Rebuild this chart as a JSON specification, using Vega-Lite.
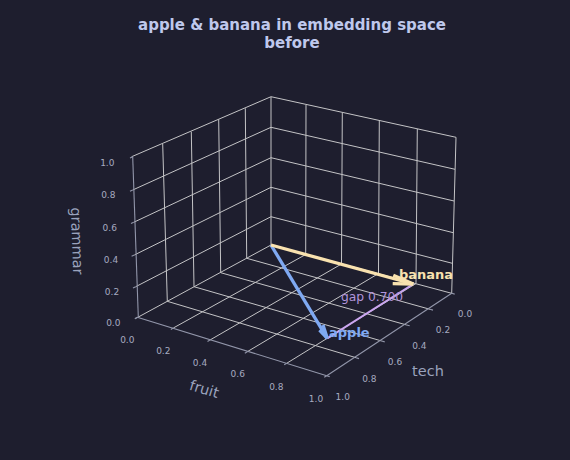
{
"$schema":"https://vega.github.io/schema/vega-lite/v6.json",
"width":570,"height":460,"padding":0,"autosize":{"type":"none"},
"background":"#1e1e2e",
"view":{"stroke":null,"fill":"#1e1e2e"},
"title":{"text":["apple & banana in embedding space","before"],"font":"DejaVu Sans","fontSize":15,"fontWeight":"bold","color":"#bfc8ec","anchor":"middle","dx":7,"offset":-63,"lineHeight":18,"baseline":"alphabetic"},
"datasets":{
"grid":[
{"x":305.7,"y":254.5,"x2":173.3,"y2":328},{"x":341.5,"y":264,"x2":210,"y2":340},{"x":378.5,"y":273.5,"x2":247.3,"y2":351.7},{"x":416,"y":283.5,"x2":286.7,"y2":363.3},
{"x":271,"y":245,"x2":451.7,"y2":293.3},{"x":246.7,"y":258.3,"x2":430,"y2":309.3},{"x":220.7,"y":272.7,"x2":406.7,"y2":325},{"x":194,"y":286.7,"x2":381.7,"y2":341},{"x":167.3,"y":301.3,"x2":356,"y2":357.7},
{"x":271,"y":245,"x2":137.8,"y2":317.3},
{"x":271,"y":97,"x2":271,"y2":245},
{"x":245.3,"y":108.3,"x2":246.7,"y2":258.3},{"x":218.7,"y":119.3,"x2":220.7,"y2":272.7},{"x":191.3,"y":131.7,"x2":194,"y2":286.7},{"x":162.7,"y":144,"x2":167.3,"y2":301.3},
{"x":306,"y":105,"x2":305.7,"y2":254.5},{"x":342.3,"y":112.7,"x2":341.5,"y2":264},{"x":379.3,"y":120.7,"x2":378.5,"y2":273.5},{"x":417.3,"y":129,"x2":416,"y2":283.5},{"x":456,"y":137.3,"x2":451.7,"y2":293.3},
{"x":271,"y":216.7,"x2":135.7,"y2":286.7},{"x":271,"y":187.3,"x2":134.3,"y2":255},{"x":271,"y":157.7,"x2":133.7,"y2":222.3},{"x":271,"y":127.3,"x2":132.7,"y2":190},{"x":271,"y":96.7,"x2":131.7,"y2":156.7},
{"x":271,"y":216.7,"x2":452.3,"y2":263.3},{"x":271,"y":187.3,"x2":453.3,"y2":232.7},{"x":271,"y":157.7,"x2":454,"y2":201},{"x":271,"y":127.3,"x2":455,"y2":169.3},{"x":271,"y":96.7,"x2":456,"y2":137.3}
],
"axes":[
{"x":137.3,"y":317.3,"x2":326.7,"y2":375.7},{"x":326.7,"y":375.7,"x2":451.7,"y2":293.3},{"x":132.7,"y":156.7,"x2":138.3,"y2":317},
{"x":173.3,"y":328,"x2":170.8,"y2":329.4},{"x":210,"y":340,"x2":207.5,"y2":341.4},{"x":247.3,"y":351.7,"x2":244.8,"y2":353.2},{"x":286.7,"y":363.3,"x2":284.2,"y2":364.8},{"x":326.7,"y":375.7,"x2":324.2,"y2":377.2},{"x":137.3,"y":317.3,"x2":134.8,"y2":318.7},
{"x":430,"y":309.3,"x2":433,"y2":310.1},{"x":406.7,"y":325,"x2":409.7,"y2":325.8},{"x":381.7,"y":341,"x2":384.7,"y2":341.9},{"x":356,"y":357.7,"x2":359,"y2":358.6},{"x":326.7,"y":375.7,"x2":329.7,"y2":376.6},{"x":451.7,"y":293.3,"x2":454.7,"y2":294.1},
{"x":132.7,"y":156.7,"x2":130,"y2":158},{"x":132.7,"y":190,"x2":130,"y2":191.3},{"x":133.7,"y":222.3,"x2":131,"y2":223.6},{"x":134.3,"y":255,"x2":131.6,"y2":256.3},{"x":135.7,"y":286.7,"x2":133,"y2":288},{"x":137.8,"y":317.3,"x2":135,"y2":318.7}
],
"gap":[{"x":327.3,"y":338.3,"x2":413.3,"y2":284}],
"apple":[{"x":271,"y":245,"x2":327.3,"y2":338.3},{"x":319.5,"y":330,"x2":327.3,"y2":338.3},{"x":323,"y":325,"x2":327.3,"y2":338.3}],
"banana":[{"x":271,"y":245,"x2":413.3,"y2":284},{"x":393.3,"y":275.3,"x2":413.3,"y2":284},{"x":392.7,"y":283.7,"x2":413.3,"y2":284}],
"ticks":[
{"x":107.3,"y":162.7,"t":"1.0"},{"x":108.3,"y":195,"t":"0.8"},{"x":109.7,"y":228,"t":"0.6"},{"x":111,"y":260,"t":"0.4"},{"x":112,"y":291.7,"t":"0.2"},{"x":113.3,"y":323,"t":"0.0"},
{"x":127.3,"y":340,"t":"0.0"},{"x":163.3,"y":351,"t":"0.2"},{"x":200,"y":362.7,"t":"0.4"},{"x":237.7,"y":374.3,"t":"0.6"},{"x":276.3,"y":386.7,"t":"0.8"},{"x":316,"y":399.3,"t":"1.0"},
{"x":465,"y":314.3,"t":"0.0"},{"x":443,"y":330,"t":"0.2"},{"x":419.3,"y":345.7,"t":"0.4"},{"x":395,"y":362.3,"t":"0.6"},{"x":369.3,"y":379,"t":"0.8"},{"x":342.7,"y":397.3,"t":"1.0"}
]
},
"encoding":{
"x":{"field":"x","type":"quantitative","scale":{"domain":[0,570],"nice":false,"zero":false},"axis":null},
"y":{"field":"y","type":"quantitative","scale":{"domain":[460,0],"nice":false,"zero":false},"axis":null}
},
"layer":[
{"data":{"name":"grid"},"mark":{"type":"rule","stroke":"#c4c4c6","strokeWidth":1},"encoding":{"x2":{"field":"x2"},"y2":{"field":"y2"}}},
{"data":{"name":"axes"},"mark":{"type":"rule","stroke":"#9296aa","strokeWidth":1.1},"encoding":{"x2":{"field":"x2"},"y2":{"field":"y2"}}},
{"data":{"name":"gap"},"mark":{"type":"rule","stroke":"#cba6f0","strokeWidth":2},"encoding":{"x2":{"field":"x2"},"y2":{"field":"y2"}}},
{"data":{"name":"apple"},"mark":{"type":"rule","stroke":"#7fa9f2","strokeWidth":3.3},"encoding":{"x2":{"field":"x2"},"y2":{"field":"y2"}}},
{"data":{"name":"banana"},"mark":{"type":"rule","stroke":"#f9e2af","strokeWidth":3.3},"encoding":{"x2":{"field":"x2"},"y2":{"field":"y2"}}},
{"data":{"name":"ticks"},"mark":{"type":"text","font":"DejaVu Sans","fontSize":9,"fill":"#a6abc0","align":"center","baseline":"middle"},"encoding":{"text":{"field":"t"}}},
{"data":{"values":[{"x":428,"y":372,"t":"tech"}]},"mark":{"type":"text","font":"DejaVu Sans","fontSize":14.5,"fill":"#9aa3bd","align":"center","baseline":"middle"},"encoding":{"text":{"field":"t"}}},
{"data":{"values":[{"x":204,"y":390,"t":"fruit"}]},"mark":{"type":"text","font":"DejaVu Sans","fontSize":14.5,"fill":"#9aa3bd","align":"center","baseline":"middle","angle":17},"encoding":{"text":{"field":"t"}}},
{"data":{"values":[{"x":76,"y":241,"t":"grammar"}]},"mark":{"type":"text","font":"DejaVu Sans","fontSize":14.5,"fill":"#9aa3bd","align":"center","baseline":"middle","angle":88},"encoding":{"text":{"field":"t"}}},
{"data":{"values":[{"x":372,"y":297,"t":"gap 0.700"}]},"mark":{"type":"text","font":"DejaVu Sans","fontSize":12.3,"fill":"#b195dc","align":"center","baseline":"middle"},"encoding":{"text":{"field":"t"}}},
{"data":{"values":[{"x":329,"y":333,"t":"apple"}]},"mark":{"type":"text","font":"DejaVu Sans","fontSize":13,"fontWeight":"bold","fill":"#7fa9f2","align":"left","baseline":"middle"},"encoding":{"text":{"field":"t"}}},
{"data":{"values":[{"x":399,"y":275,"t":"banana"}]},"mark":{"type":"text","font":"DejaVu Sans","fontSize":13,"fontWeight":"bold","fill":"#f9e2af","align":"left","baseline":"middle"},"encoding":{"text":{"field":"t"}}}
]
}
